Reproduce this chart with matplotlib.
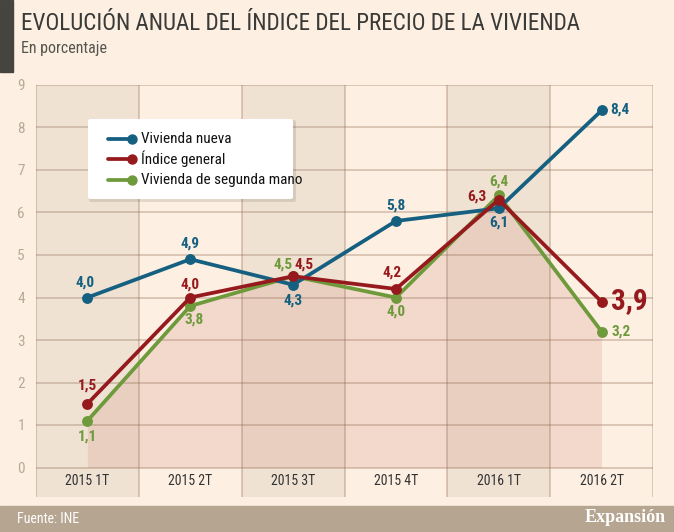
import matplotlib
matplotlib.use("Agg")
import matplotlib.pyplot as plt
from matplotlib.patches import Rectangle, FancyBboxPatch
from matplotlib.lines import Line2D

categories = ["2015 1T", "2015 2T", "2015 3T", "2015 4T", "2016 1T", "2016 2T"]
nueva = [4.0, 4.9, 4.3, 5.8, 6.1, 8.4]
general = [1.5, 4.0, 4.5, 4.2, 6.3, 3.9]
segunda = [1.1, 3.8, 4.5, 4.0, 6.4, 3.2]
yticks = list(range(0, 10))

title = "EVOLUCIÓN ANUAL DEL ÍNDICE DEL PRECIO DE LA VIVIENDA"
subtitle = "En porcentaje"
source = "Fuente: INE"
brand = "Expansión"
series_names = ["Vivienda nueva", "Índice general", "Vivienda de segunda mano"]

BG = "#fdf0e2"
COL = "#efe2d3"
BLUE = "#155f80"
RED = "#961a1d"
GREEN = "#6f9a3c"
NARROW = ["Roboto Condensed", "Archivo Narrow", "DejaVu Sans"]

W, H = 674, 532
fig = plt.figure(figsize=(W / 100, H / 100), dpi=100, facecolor=BG)

def fx(px):
    return px / W

def fy(py):
    return 1 - py / H

# header decorations
fig.patches.append(Rectangle((0, fy(72)), fx(13), 72 / H, transform=fig.transFigure,
                             color="#45443f", zorder=1))
fig.text(fx(21), fy(23), title, fontsize=16.7, color="#3a3a38", va="center", ha="left",
         family=NARROW)
fig.text(fx(21), fy(49), subtitle, fontsize=11.5, color="#555550", va="center", ha="left",
         family=NARROW)

# footer
fig.patches.append(Rectangle((0, 0), 1, 26 / H, transform=fig.transFigure,
                             color="#b6a591", zorder=1))
fig.text(fx(17), fy(519), source, fontsize=10, color="white", va="center", ha="left",
         family=NARROW)
fig.text(fx(666), fy(518), brand, fontsize=13, color="white", va="center", ha="right",
         family=["Liberation Serif"], fontweight="bold")

# main axes
ymin = -(497 - 467.5) / 42.5
ax = fig.add_axes([fx(36), 1 - 497 / H, 617 / W, (497 - 85) / H])
ax.set_facecolor(BG)
ax.set_xlim(-0.5, len(categories) - 0.5)
ax.set_ylim(ymin, 9)
for s in ax.spines.values():
    s.set_visible(False)

x = list(range(len(categories)))
for i in x:
    if i % 2 == 0:
        ax.axvspan(i - 0.5, i + 0.5, color=COL, zorder=0, lw=0)

ax.fill_between(x, 0, segunda, color="#d9a092", alpha=0.28, lw=0, zorder=1)

gridc = (0.55, 0.40, 0.30, 0.32)
for yv in yticks:
    ax.axhline(yv, color=gridc, lw=1.3, zorder=2)
for i in range(len(categories) + 1):
    ax.axvline(i - 0.5, color=gridc, lw=1.3, zorder=2)

ax.set_yticks(yticks)
ax.set_yticklabels([str(v) for v in yticks], family=NARROW)
ax.tick_params(axis="y", length=0, pad=8, labelsize=11, labelcolor="#b8aa9a")
ax.set_xticks([])

for i, c in enumerate(categories):
    ax.text(i, ymin / 2 + 0.02, c, ha="center", va="center", fontsize=10, color="#333333",
            family=NARROW)

lw, ms = 2.7, 6.8
ax.plot(x, segunda, color=GREEN, lw=lw, marker="o", ms=ms, zorder=4, solid_capstyle="round")
ax.plot(x, nueva, color=BLUE, lw=lw, marker="o", ms=ms, zorder=5, solid_capstyle="round")
ax.plot(x, general, color=RED, lw=lw, marker="o", ms=ms, zorder=6, solid_capstyle="round")

def fmt(v):
    return f"{v:.1f}".replace(".", ",")

def lab(xi, yv, color, dx, dy, ha="center", size=11):
    ax.annotate(fmt(yv), (xi, yv), xytext=(dx * 0.72, dy * 0.72), textcoords="offset points",
                ha=ha, va="center", color=color, fontsize=size, fontweight="bold",
                family=NARROW, zorder=7)

# blue labels
lab(0, nueva[0], BLUE, -2, 15)
lab(1, nueva[1], BLUE, 0, 16)
lab(2, nueva[2], BLUE, 0, -16)
lab(3, nueva[3], BLUE, 0, 15)
lab(4, nueva[4], BLUE, 0, -14)
lab(5, nueva[5], BLUE, 9, 1, ha="left")
# red labels
lab(0, general[0], RED, 0, 18)
lab(1, general[1], RED, 0, 13)
lab(2, general[2], RED, 11, 12)
lab(3, general[3], RED, -4, 16)
lab(4, general[4], RED, -12, 3, ha="right")
lab(5, general[5], RED, 9, 1, ha="left", size=21)
# green labels
lab(0, segunda[0], GREEN, 0, -16)
lab(1, segunda[1], GREEN, 4, -14)
lab(2, segunda[2], GREEN, -10, 12)
lab(3, segunda[3], GREEN, 0, -14)
lab(4, segunda[4], GREEN, 0, 14)
lab(5, segunda[5], GREEN, 10, 0, ha="left")

# legend (manual)
lx0, ly0, lx1, ly1 = 88, 119, 293, 199
shadow = FancyBboxPatch((fx(lx0 + 1), fy(ly1 + 3)), fx(lx1 - lx0 + 2), (ly1 - ly0 + 2) / H,
                        boxstyle="round,pad=0,rounding_size=0.004", transform=fig.transFigure,
                        fc=(0, 0, 0, 0.10), ec="none", zorder=8)
fig.patches.append(shadow)
box = FancyBboxPatch((fx(lx0), fy(ly1)), fx(lx1 - lx0), (ly1 - ly0) / H,
                     boxstyle="round,pad=0,rounding_size=0.004", transform=fig.transFigure,
                     fc="white", ec="none", zorder=9)
fig.patches.append(box)
for name, color, yy in zip(series_names, [BLUE, RED, GREEN], [139, 159, 180]):
    fig.lines.append(Line2D([fx(108), fx(132)], [fy(yy), fy(yy)], transform=fig.transFigure,
                            color=color, lw=lw, zorder=10, solid_capstyle="round"))
    fig.lines.append(Line2D([fx(132)], [fy(yy)], transform=fig.transFigure, color=color,
                            marker="o", ms=6.5, lw=0, zorder=10))
    fig.text(fx(141), fy(yy), name, fontsize=11, color="#111111", va="center", ha="left",
             family=NARROW, zorder=11)

fig.savefig("out.png", dpi=100, facecolor=BG)
